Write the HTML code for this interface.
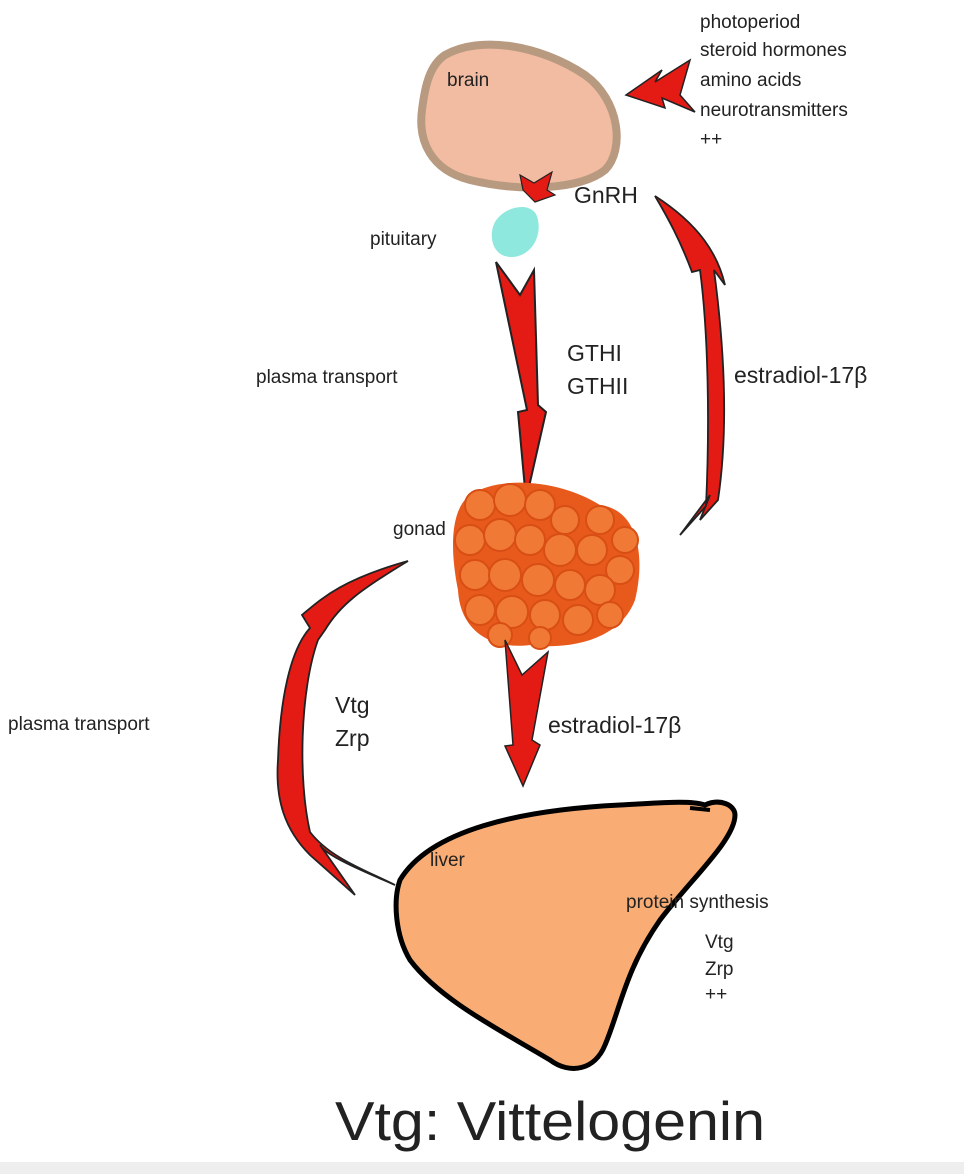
<!DOCTYPE html>
<html><head><style>
html,body{margin:0;padding:0;background:#fff}
svg{display:block}
text{font-family:"Liberation Sans",sans-serif;fill:#222}
</style></head><body>
<svg width="964" height="1174" viewBox="0 0 964 1174" xmlns="http://www.w3.org/2000/svg">
<rect width="964" height="1174" fill="#fff"/>
<rect y="1162" width="964" height="12" fill="#eeeeee"/>
<!-- brain -->
<path d="M445 55 C480 35 540 45 585 75 C620 100 625 150 605 170 C580 190 520 192 470 180 C430 170 418 140 422 110 C425 85 430 65 445 55Z" fill="#f2bca2" stroke="#b89a80" stroke-width="8"/>
<!-- input arrow -->
<path d="M626 95 L662 70 L655 82 L690 60 L680 95 L695 112 L662 98 L665 108Z" fill="#e31b14" stroke="#222" stroke-width="1.5"/>
<!-- GnRH small arrow -->
<path d="M520 175 L534 183 L552 172 L547 190 L555 195 L535 202 L523 190Z" fill="#e31b14" stroke="#222" stroke-width="1.2"/>
<!-- pituitary -->
<path d="M495 222 C505 205 535 200 538 220 C542 240 528 258 510 257 C492 256 488 235 495 222Z" fill="#8fe8de"/>
<!-- GTH arrow -->
<path d="M496 262 L520 295 L534 270 L538 405 L546 412 L526 500 L518 412 L527 410Z" fill="#e31b14" stroke="#222" stroke-width="2"/>
<!-- right estradiol curve -->
<path d="M655 196 C700 225 718 255 725 285 L714 270 C722 330 730 420 718 500 L700 520 L710 495 L680 535 L706 506 C710 420 708 330 700 270 L692 272 C680 240 668 218 655 196Z" fill="#e31b14" stroke="#222" stroke-width="1.8"/>
<!-- gonad -->
<g>
<path d="M470 495 C500 475 560 480 600 505 C640 510 645 560 635 600 C620 640 570 650 530 645 C490 650 460 630 458 590 C450 550 450 510 470 495Z" fill="#e8591c"/>
<g fill="#f07a35" stroke="#d84e14" stroke-width="2">
<circle cx="480" cy="505" r="15"/><circle cx="510" cy="500" r="16"/><circle cx="540" cy="505" r="15"/><circle cx="565" cy="520" r="14"/><circle cx="600" cy="520" r="14"/><circle cx="625" cy="540" r="13"/>
<circle cx="470" cy="540" r="15"/><circle cx="500" cy="535" r="16"/><circle cx="530" cy="540" r="15"/><circle cx="560" cy="550" r="16"/><circle cx="592" cy="550" r="15"/><circle cx="620" cy="570" r="14"/>
<circle cx="475" cy="575" r="15"/><circle cx="505" cy="575" r="16"/><circle cx="538" cy="580" r="16"/><circle cx="570" cy="585" r="15"/><circle cx="600" cy="590" r="15"/>
<circle cx="480" cy="610" r="15"/><circle cx="512" cy="612" r="16"/><circle cx="545" cy="615" r="15"/><circle cx="578" cy="620" r="15"/><circle cx="610" cy="615" r="13"/><circle cx="500" cy="635" r="12"/><circle cx="540" cy="638" r="11"/>
</g></g>
<!-- estradiol down arrow -->
<path d="M505 640 L522 675 L548 652 L532 740 L540 745 L523 786 L505 746 L513 745Z" fill="#e31b14" stroke="#222" stroke-width="1.5"/>
<!-- liver -->
<path d="M400 880 C430 830 520 810 620 805 C660 803 690 800 705 805 C720 798 735 805 735 815 C735 840 690 880 660 920 C625 970 620 1010 605 1045 C595 1070 570 1075 550 1060 C500 1030 440 1000 410 960 C395 935 393 900 400 880Z" fill="#f9ad75" stroke="#000" stroke-width="5"/>
<path d="M690 808 L710 810" stroke="#000" stroke-width="4"/>
<!-- left arrow -->
<path d="M395 885 C360 870 325 855 320 845 L355 895 L310 855 C285 830 275 800 278 760 C280 700 290 650 310 628 L302 615 C320 600 340 580 408 561 C360 590 340 605 325 630 L318 640 C300 690 298 780 310 832 C330 858 365 870 395 885Z" fill="#e31b14" stroke="#222" stroke-width="1.8"/>
<!-- text -->
<g font-size="19">
<text x="700" y="28">photoperiod</text>
<text x="700" y="56">steroid hormones</text>
<text x="700" y="86">amino acids</text>
<text x="700" y="116">neurotransmitters</text>
<text x="700" y="145">++</text>
<text x="447" y="86">brain</text>
<text x="370" y="245">pituitary</text>
<text x="256" y="383">plasma transport</text>
<text x="393" y="535">gonad</text>
<text x="8" y="730">plasma transport</text>
<text x="430" y="866">liver</text>
<text x="626" y="908">protein synthesis</text>
<text x="705" y="948">Vtg</text>
<text x="705" y="975">Zrp</text>
<text x="705" y="1000">++</text>
</g>
<g font-size="23">
<text x="574" y="203">GnRH</text>
<text x="567" y="361">GTHI</text>
<text x="567" y="394">GTHII</text>
<text x="734" y="383">estradiol-17β</text>
<text x="335" y="713">Vtg</text>
<text x="335" y="746">Zrp</text>
<text x="548" y="733">estradiol-17β</text>
</g>
<text x="335" y="1140" font-size="55" textLength="430" lengthAdjust="spacingAndGlyphs" fill="#111">Vtg: Vittelogenin</text>
</svg>
</body></html>
